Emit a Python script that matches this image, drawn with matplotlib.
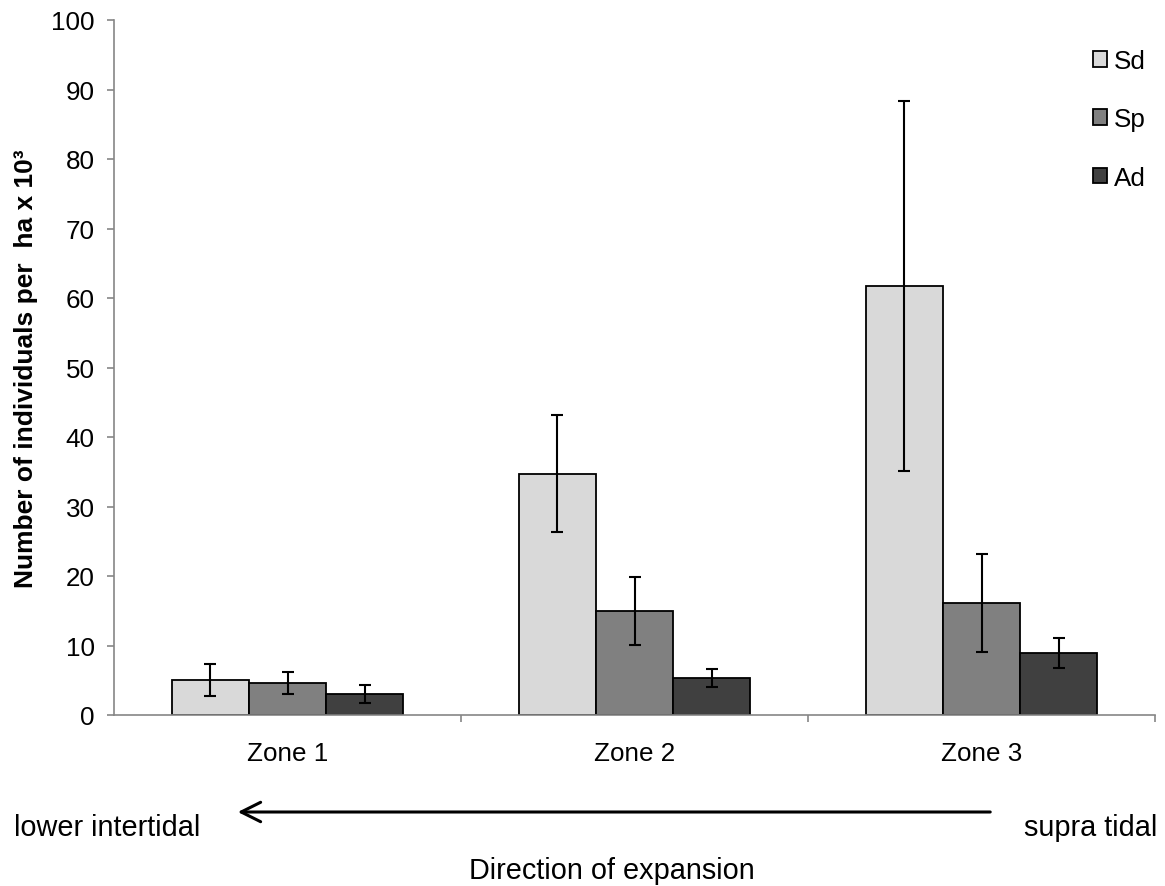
import matplotlib
matplotlib.use("Agg")
import matplotlib.pyplot as plt
import numpy as np
from matplotlib.patches import Patch, FancyArrowPatch

plt.rcParams['font.family'] = ['Liberation Sans', 'DejaVu Sans']

zones = ["Zone 1", "Zone 2", "Zone 3"]
series = ["Sd", "Sp", "Ad"]
sd_vals = [5.0, 34.7, 61.7]
sd_err = [2.3, 8.4, 26.6]
sp_vals = [4.6, 15.0, 16.1]
sp_err = [1.6, 4.9, 7.0]
ad_vals = [3.0, 5.3, 8.9]
ad_err = [1.3, 1.3, 2.2]
colors = ["#d9d9d9", "#808080", "#404040"]

W, H = 1165, 887
fig = plt.figure(figsize=(W / 100, H / 100), dpi=100)
ax = fig.add_axes([114 / W, 1 - 716 / H, (1155 - 114) / W, (716 - 21) / H])

x = np.arange(len(zones))
w = 0.222
for i, (vals, errs, col, name) in enumerate(zip([sd_vals, sp_vals, ad_vals],
                                                [sd_err, sp_err, ad_err],
                                                colors, series)):
    ax.bar(x + (i - 1) * w, vals, width=w, color=col, edgecolor="black",
           linewidth=1.3, label=name, zorder=2,
           yerr=errs, error_kw=dict(ecolor="black", elinewidth=1.5,
                                    capsize=4.3, capthick=1.5, zorder=3))

ax.set_xlim(-0.5, 2.5)
ax.set_ylim(0, 100)
ax.set_yticks(np.arange(0, 101, 10))
ax.set_xticks(x)
ax.set_xticklabels(zones)
ax.set_xticks([0.5, 1.5, 2.5], minor=True)

spine_col = "#868686"
for s in ["top", "right"]:
    ax.spines[s].set_visible(False)
for s in ["left", "bottom"]:
    ax.spines[s].set_color(spine_col)
    ax.spines[s].set_linewidth(1.2)

ax.tick_params(axis="y", direction="out", length=5, width=1.2, color=spine_col,
               labelsize=18.7, pad=9)
ax.tick_params(axis="x", which="major", length=0, labelsize=18.7, pad=19)
ax.tick_params(axis="x", which="minor", direction="out", length=5, width=1.2,
               color=spine_col)

ax.set_ylabel("Number of individuals per  ha x 10³", fontsize=19,
              fontweight="bold")
ax.yaxis.set_label_coords(-(114 - 38) / (1155 - 114), 0.5)

handles = [Patch(facecolor=c, edgecolor="black", linewidth=1.3) for c in colors]
fig.legend(handles, series, loc="upper left",
           bbox_to_anchor=(1093 / W, 1 - 50 / H),
           frameon=False, fontsize=18.7, handlelength=0.55, handleheight=0.55,
           handletextpad=0.25, labelspacing=1.32, borderpad=0, borderaxespad=0)

# direction of expansion arrow
fig.add_artist(FancyArrowPatch(
    (993 / W, 1 - 813 / H), (235 / W, 1 - 813 / H),
    transform=fig.transFigure, arrowstyle="->,head_length=14,head_width=7",
    color="black", linewidth=2.2, mutation_scale=1))
fig.text(14 / W, 1 - 828 / H, "lower intertidal", fontsize=20.8,
         ha="left", va="center")
fig.text(1157 / W, 1 - 828 / H, "supra tidal", fontsize=20.8,
         ha="right", va="center")
fig.text(612 / W, 1 - 871 / H, "Direction of expansion", fontsize=20.8,
         ha="center", va="center")

fig.savefig("out.png", dpi=100)
